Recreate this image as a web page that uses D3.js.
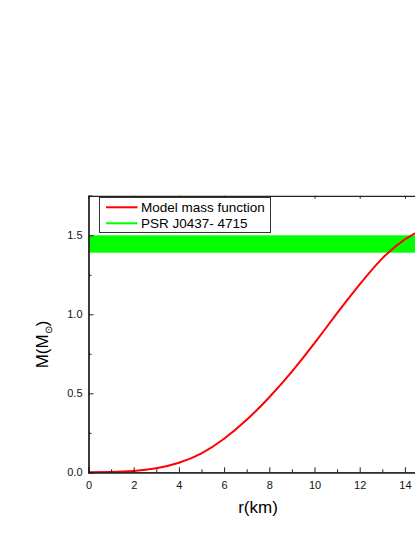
<!DOCTYPE html>
<html><head><meta charset="utf-8">
<script src="https://cdn.jsdelivr.net/npm/d3@7/dist/d3.min.js"></script>
<style>body{margin:0;background:#fff;}svg{display:block;font-family:Arial,"Liberation Sans",sans-serif;}</style>
</head><body>
<svg id="c" width="415" height="537"></svg>
<script>
const radius = [0,1,2,3,4,5,6,7,8,9,10,11,12,13,14,15];
const mass   = [0,0.002,0.008,0.025,0.06,0.12,0.212,0.332,0.475,0.637,0.817,1.007,1.189,1.354,1.474,1.554];
const pulsarBand = [1.39, 1.50];
const xTicks = [0,2,4,6,8,10,12,14];
const xMinor = [1,3,5,7,9,11,13,15];
const yTicks = [0.0,0.5,1.0,1.5];
const yMinor = [0.25,0.75,1.25,1.75];
const legendLabels = ["Model mass function","PSR J0437- 4715"];

const svg = d3.select("#c");
const x = d3.scaleLinear().domain([0,15]).range([88.5, 88.5+15*22.6]);
const y = d3.scaleLinear().domain([0,1.75]).range([472.3, 195.8]);
const [x0,x1] = x.range(), [yb,yt] = y.range();

// green band
svg.append("rect").attr("x", x0).attr("width", x1-x0)
  .attr("y", y(pulsarBand[1])).attr("height", y(pulsarBand[0])-y(pulsarBand[1]))
  .attr("fill", "#00ff00");

// curve
svg.append("path").datum(radius.map((r,i)=>[r,mass[i]]))
  .attr("fill","none").attr("stroke","#ff0000").attr("stroke-width",2)
  .attr("d", d3.line().x(d=>x(d[0])).y(d=>y(d[1])).curve(d3.curveNatural));

// axes
const fmt = d3.format(".1f");
const gBottom = svg.append("g").attr("transform",`translate(0,${yb})`)
  .call(d3.axisBottom(x).tickValues(xTicks).tickSize(-5).tickPadding(9).tickFormat(d3.format("d")));
const gLeft = svg.append("g").attr("transform",`translate(${x0},0)`)
  .call(d3.axisLeft(y).tickValues(yTicks).tickSize(-5).tickPadding(5).tickFormat(fmt));
svg.append("g").attr("transform",`translate(0,${yt})`)
  .call(d3.axisTop(x).tickValues(xTicks).tickSize(-3).tickFormat(""));
// minor ticks
svg.append("g").attr("transform",`translate(0,${yb})`)
  .call(d3.axisBottom(x).tickValues(xMinor).tickSize(-3).tickFormat(""));
svg.append("g").attr("transform",`translate(${x0},0)`)
  .call(d3.axisLeft(y).tickValues(yMinor).tickSize(-3).tickFormat(""));
svg.selectAll(".domain").attr("stroke","#222").attr("stroke-width",1.3);
svg.selectAll(".tick line").attr("stroke","#222");
[gBottom,gLeft].forEach(g=>g.selectAll("text").attr("font-size",11).attr("fill","#111").attr("font-family","Arial,'Liberation Sans',sans-serif"));
gLeft.selectAll(".tick text").attr("dx",-1);

// axis titles
svg.append("text").attr("x",258).attr("y",513).attr("text-anchor","middle")
  .attr("font-size",17).text("r(km)");
const yl = svg.append("text").attr("transform","translate(48,344.5) rotate(-90)")
  .attr("text-anchor","middle").attr("font-size",17);
yl.append("tspan").text("M(M");
yl.append("tspan").attr("font-size",10).attr("dy",4).text("\u2299");
yl.append("tspan").attr("dy",-4).text(")");

// legend
const lg = svg.append("g");
lg.append("rect").attr("x",99.5).attr("y",197.5).attr("width",171).attr("height",35)
  .attr("fill","#fff").attr("stroke","#333").attr("stroke-width",1);
const colors = ["#ff0000","#00ff00"];
legendLabels.forEach((t,i)=>{
  const yy = 207.3 + i*16;
  lg.append("line").attr("x1",106).attr("x2",137.5).attr("y1",yy).attr("y2",yy)
    .attr("stroke",colors[i]).attr("stroke-width",2);
  lg.append("text").attr("x",141).attr("y",yy+5).attr("font-size",13.5).text(t);
});
</script>
</body></html>
